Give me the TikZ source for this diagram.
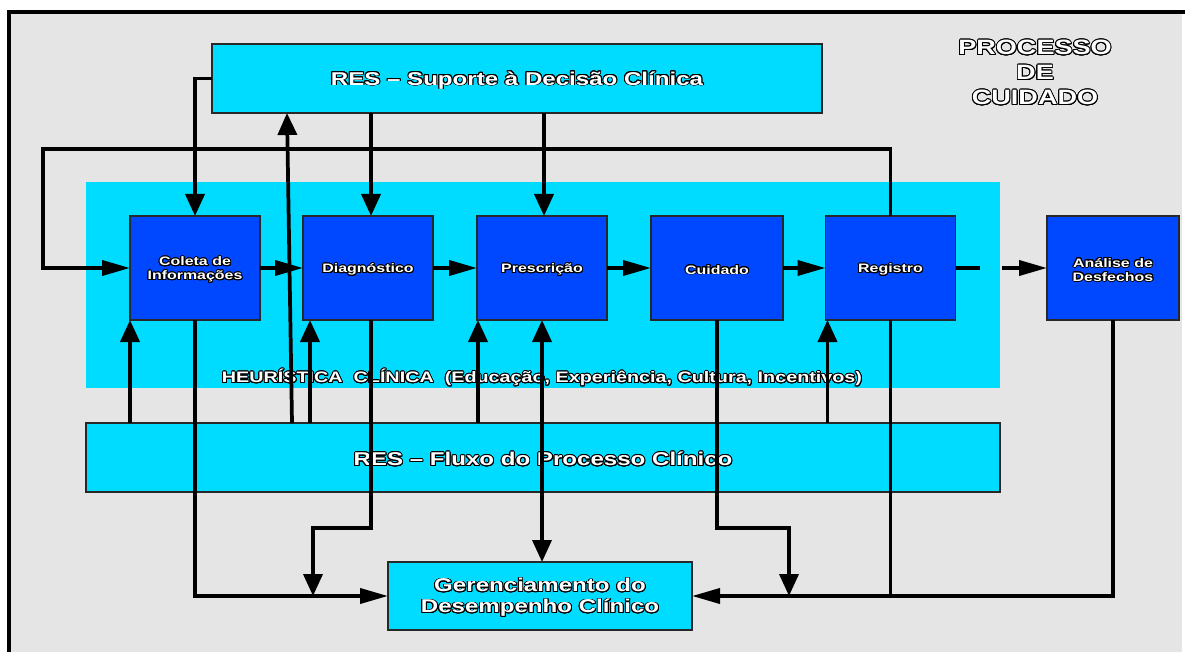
\documentclass[tikz,border=0pt]{standalone}
\usepackage{fontspec}
\setmainfont{Liberation Sans}[FakeStretch=1.3]
\usepackage[copies]{contour}
\contourlength{0.7pt}
\contournumber{20}
\usetikzlibrary{arrows.meta,calc}

\definecolor{bgGray}{RGB}{229,229,229}
\definecolor{resCyan}{RGB}{0,220,255}
\definecolor{stepBlue}{RGB}{0,72,255}
\definecolor{edgeGray}{RGB}{40,40,40}

% white lettering with a dark outline, set slightly low on its baseline
\newcommand{\olt}[1]{\raisebox{-1.6pt}[\height][\depth]{\contour{black}{\textcolor{white}{#1}}}}

\begin{document}
\begin{tikzpicture}[x=0.75pt,y=-0.75pt,
  flow/.style={line width=2.8pt},
  harr/.style={flow,-{Triangle[length=21pt,width=11.25pt]}},
  varr/.style={flow,-{Triangle[length=16.5pt,width=14.25pt]}},
  vboth/.style={flow,{Triangle[length=16.5pt,width=14.25pt]}-{Triangle[length=16.5pt,width=14.25pt]}},
  resbox/.style={draw=edgeGray,line width=0.8pt,fill=resCyan,inner sep=0pt,outer sep=0pt,
    minimum height=51.75pt,align=center},
  stepbox/.style={draw=edgeGray,line width=0.8pt,fill=stepBlue,inner sep=0pt,outer sep=0pt,
    minimum width=97.5pt,minimum height=78pt,align=center,
    font=\fontsize{9.2pt}{10.5pt}\selectfont\bfseries},
  bigtext/.style={font=\fontsize{13.9pt}{15.75pt}\selectfont\bfseries,align=center}
]
% page and frame
\useasboundingbox (0,0) rectangle (1185,652);
\fill[white] (0,0) rectangle (1185,652);
\fill[bgGray] (9,12) rectangle (1182,655);
\draw[line width=2.6pt] (1185,12) -- (9,12) -- (9,656);

% title
\node[font=\fontsize{15.6pt}{18.75pt}\selectfont\bfseries,align=center] (title) at (1035,71)
  {\olt{PROCESSO}\\\olt{DE}\\\olt{CUIDADO}};

% heuristics band
\node[fill=resCyan,inner sep=0pt,outer sep=0pt,minimum width=685.5pt,minimum height=154.5pt] (band) at (543,285) {};
\node[font=\fontsize{11.4pt}{13pt}\selectfont\bfseries] (heur) at (542,376)
  {\olt{HEURÍSTICA\ \ CLÍNICA\ \ (Educação, Experiência, Cultura, Incentivos)}};

% support boxes
\node[resbox,minimum width=457.5pt,bigtext] (top) at (517,78.5) {\olt{RES – Suporte à Decisão Clínica}};
\node[resbox,minimum width=685.5pt,bigtext] (fluxo) at (543,457.5) {\olt{RES – Fluxo do Processo Clínico}};
\node[resbox,minimum width=228pt,minimum height=51pt,bigtext] (gerenc) at (540,596)
  {\olt{Gerenciamento do}\\\olt{Desempenho Clínico}};

% process steps
\node[stepbox] (coleta) at (195,268) {\olt{Coleta de}\\\olt{Informações}};
\node[stepbox] (diag) at (368,268) {\olt{Diagnóstico}};
\node[stepbox] (presc) at (542,268) {\olt{Prescrição}};
\node[stepbox,minimum width=99pt] (cuid) at (717,268) {\olt{Cuidado}};
\node[stepbox] (registro) at (890.5,268) {\olt{Registro}};
\node[stepbox,minimum width=99pt] (analise) at (1113,268) {\olt{Análise de}\\\olt{Desfechos}};

% helper points for bends
\coordinate (loopTL) at (43,149);
\coordinate (jL) at (313,528);
\coordinate (jR) at (789,528);
\coordinate (dIn) at ($(diag.north)+(3,0)$);
\coordinate (pIn) at ($(presc.north)+(2,0)$);
\coordinate (dOut) at ($(diag.south)+(3,0)$);
\coordinate (dUp) at ($(diag.south west)+(7,0)$);
\coordinate (rUp) at ($(registro.south west)+(2,0)$);
\coordinate (cUp) at (coleta.south west);
\coordinate (pUp) at ($(presc.south west)+(1,0)$);
\coordinate (supIn) at ($(top.south west)+(75,0)$);
\coordinate (supOut) at ($(fluxo.north west)+(206,0)$);

% decision support
\draw[varr] (top.west) -| (coleta.north);
\draw[varr] (top.south -| dIn) -- (dIn);
\draw[varr] (top.south -| pIn) -- (pIn);
\draw[varr] (supOut) -- (supIn);

% feedback loop from the record
\draw[harr] (registro.north) |- (loopTL) |- (coleta.west);

% main sequence
\draw[harr] (coleta.east) -- (diag.west);
\draw[harr] (diag.east) -- (presc.west);
\draw[harr] (presc.east) -- (cuid.west);
\draw[harr] (cuid.east) -- (registro.west);
\draw[harr,dash pattern=on 18pt off 16.5pt on 200pt] (registro.east) -- (analise.west);

% clinical workflow inputs
\draw[varr] (fluxo.north -| cUp) -- (cUp);
\draw[varr] (fluxo.north -| dUp) -- (dUp);
\draw[varr] (fluxo.north -| pUp) -- (pUp);
\draw[varr] (fluxo.north -| rUp) -- (rUp);

% performance management
\draw[vboth] (presc.south) -- (presc.south |- gerenc.north);
\draw[harr] (coleta.south) |- (gerenc.west);
\draw[varr] (dOut) |- (jL) -- (jL |- gerenc.west);
\draw[varr] (cuid.south) |- (jR) -- (jR |- gerenc.east);
\draw[flow] (registro.south) -- (registro.south |- gerenc.east);
\draw[harr] (analise.south) |- (gerenc.east);
\end{tikzpicture}
\end{document}
